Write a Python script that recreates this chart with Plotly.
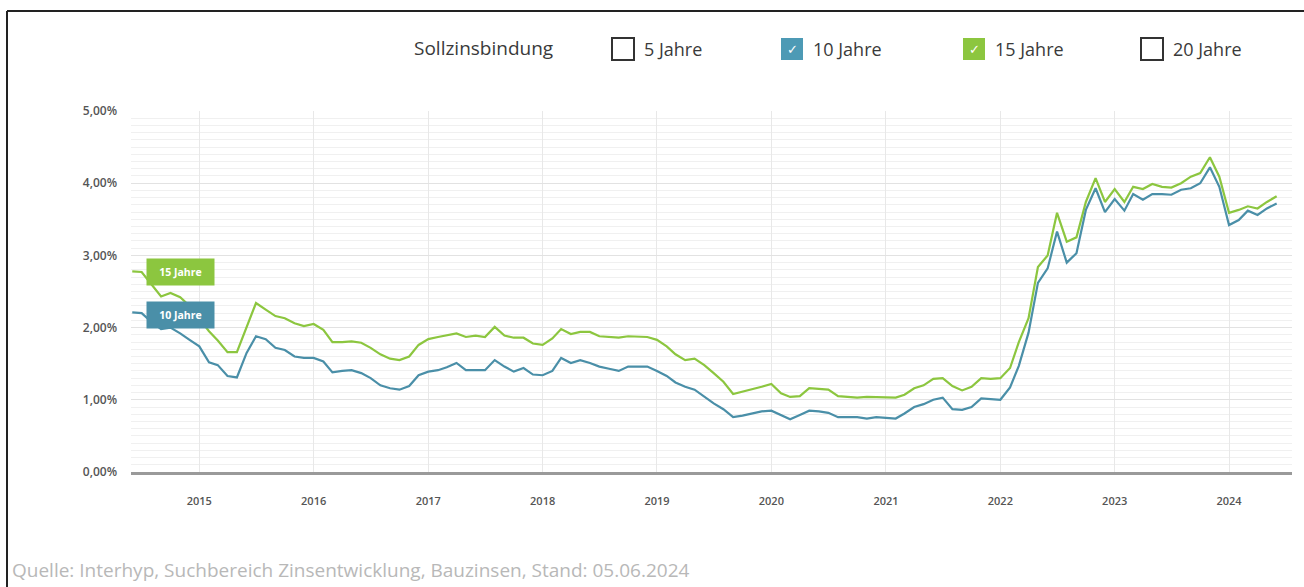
import pandas as pd
import plotly.graph_objects as go

# ---- data (monthly, Jun 2014 .. Jun 2024) ----
start_month = "2014-06-01"
n_months = 121

rate_15y = [
    2.78, 2.77, 2.60, 2.43, 2.48, 2.42, 2.30,
    2.12, 1.95, 1.82, 1.66, 1.66, 2.02, 2.34, 2.25, 2.16, 2.13, 2.06, 2.02,
    2.05, 1.97, 1.80, 1.80, 1.81, 1.79, 1.72, 1.63, 1.57, 1.55, 1.60, 1.76,
    1.84, 1.87, 1.89, 1.92, 1.87, 1.89, 1.87, 2.01, 1.89, 1.86, 1.86, 1.78,
    1.76, 1.85, 1.98, 1.91, 1.94, 1.94, 1.88, 1.87, 1.86, 1.88, 1.88, 1.87,
    1.83, 1.74, 1.63, 1.55, 1.57, 1.48, 1.37, 1.25, 1.08, 1.11, 1.14, 1.18,
    1.22, 1.09, 1.04, 1.05, 1.16, 1.15, 1.14, 1.05, 1.04, 1.03, 1.04, 1.04,
    1.04, 1.03, 1.07, 1.16, 1.20, 1.29, 1.30, 1.19, 1.13, 1.18, 1.30, 1.29,
    1.30, 1.44, 1.80, 2.13, 2.84, 3.00, 3.59, 3.19, 3.25, 3.74, 4.07, 3.74,
    3.92, 3.74, 3.95, 3.92, 3.99, 3.95, 3.94, 4.00, 4.09, 4.14, 4.36, 4.09,
    3.59, 3.63, 3.68, 3.65, 3.74, 3.82,
]
rate_10y = [
    2.21, 2.20, 2.08, 1.98, 2.00, 1.92, 1.83,
    1.74, 1.52, 1.48, 1.33, 1.31, 1.65, 1.88, 1.84, 1.72, 1.69, 1.60, 1.58,
    1.58, 1.53, 1.38, 1.40, 1.41, 1.37, 1.30, 1.20, 1.16, 1.14, 1.19, 1.34,
    1.39, 1.41, 1.45, 1.51, 1.41, 1.41, 1.41, 1.55, 1.46, 1.39, 1.44, 1.35,
    1.34, 1.40, 1.58, 1.51, 1.55, 1.51, 1.46, 1.43, 1.40, 1.46, 1.46, 1.46,
    1.40, 1.33, 1.24, 1.18, 1.14, 1.04, 0.95, 0.87, 0.76, 0.78, 0.81, 0.84,
    0.85, 0.79, 0.73, 0.79, 0.85, 0.84, 0.82, 0.76, 0.76, 0.76, 0.74, 0.76,
    0.75, 0.74, 0.81, 0.90, 0.94, 1.00, 1.03, 0.87, 0.86, 0.90, 1.02, 1.01,
    1.00, 1.17, 1.47, 1.93, 2.62, 2.82, 3.33, 2.90, 3.03, 3.63, 3.93, 3.60,
    3.78, 3.62, 3.85, 3.77, 3.85, 3.85, 3.84, 3.91, 3.93, 4.00, 4.22, 3.95,
    3.42, 3.49, 3.62, 3.56, 3.65, 3.72,
]
legend_items = ["5 Jahre", "10 Jahre", "15 Jahre", "20 Jahre"]
legend_checked = [False, True, True, False]
legend_title = "Sollzinsbindung"
source_text = "Quelle: Interhyp, Suchbereich Zinsentwicklung, Bauzinsen, Stand: 05.06.2024"

dates = pd.date_range(start_month, periods=n_months, freq="MS")

GREEN = "#8cc63f"
BLUE = "#4a8fa8"
BOX_BLUE = "#4d9ab5"

W, H = 1304, 587
L, R, T, B = 131, 12, 111, 115
PW, PH = W - L - R, H - T - B


def fx(px):
    return (px - L) / PW


def fy(py):
    return (H - B - py) / PH


fig = go.Figure()
fig.add_trace(go.Scatter(x=dates, y=rate_15y, mode="lines", name="15 Jahre",
                         line=dict(color=GREEN, width=2.2)))
fig.add_trace(go.Scatter(x=dates, y=rate_10y, mode="lines", name="10 Jahre",
                         line=dict(color=BLUE, width=2.2)))

shapes = []
annotations = []

# frame
shapes.append(dict(type="line", xref="paper", yref="paper", x0=fx(7), x1=fx(1304),
                   y0=fy(11), y1=fy(11), line=dict(color="#222", width=2)))
shapes.append(dict(type="line", xref="paper", yref="paper", x0=fx(7), x1=fx(7),
                   y0=fy(11), y1=fy(590), line=dict(color="#222", width=2)))

# custom legend
annotations.append(dict(xref="paper", yref="paper", x=fx(412), y=fy(48), xanchor="left",
                        yanchor="middle", text=legend_title, showarrow=False,
                        font=dict(family="Open Sans", size=19, weight=500, color="#3a3a3a")))
box_x = [612, 781, 963, 1141]
for bx, label, checked in zip(box_x, legend_items, legend_checked):
    if checked:
        fill = BOX_BLUE if label == "10 Jahre" else GREEN
        shapes.append(dict(type="rect", xref="paper", yref="paper", x0=fx(bx), x1=fx(bx + 22),
                           y0=fy(38), y1=fy(60), fillcolor=fill, line=dict(width=0)))
        annotations.append(dict(xref="paper", yref="paper", x=fx(bx + 11), y=fy(49),
                                text="✓", showarrow=False, xanchor="center", yanchor="middle",
                                font=dict(family="DejaVu Sans", size=13, color="white")))
    else:
        shapes.append(dict(type="rect", xref="paper", yref="paper", x0=fx(bx), x1=fx(bx + 22),
                           y0=fy(38), y1=fy(60), fillcolor="white",
                           line=dict(color="#333", width=2)))
    annotations.append(dict(xref="paper", yref="paper", x=fx(bx + 30), y=fy(49), xanchor="left",
                            yanchor="middle", text=label, showarrow=False,
                            font=dict(family="Open Sans", size=18, weight=500, color="#3a3a3a")))

# series labels
for label, color, cy in [("15 Jahre", GREEN, 272), ("10 Jahre", BLUE, 315)]:
    annotations.append(dict(xref="paper", yref="paper", x=fx(180.5), y=fy(cy),
                            xanchor="center", yanchor="middle", text="<b>%s</b>" % label,
                            showarrow=False, bgcolor=color, borderpad=4, width=59, height=18,
                            font=dict(family="Open Sans", size=10.5, color="white")))

# source
annotations.append(dict(xref="paper", yref="paper", x=fx(10), y=fy(570), xanchor="left",
                        yanchor="middle", text=source_text, showarrow=False,
                        font=dict(family="Open Sans", size=19, color="#b8b8b8")))

fig.update_layout(
    width=W, height=H,
    margin=dict(l=L, r=R, t=T, b=B),
    paper_bgcolor="white", plot_bgcolor="white",
    showlegend=False,
    separators=",.",
    shapes=shapes, annotations=annotations,
    font=dict(family="Open Sans"),
    xaxis=dict(range=["2014-05-28", "2024-07-20"], dtick="M12", tick0="2015-01-01",
               tickformat="%Y", showgrid=True, gridcolor="#e8e8e8", gridwidth=1,
               showline=True, linecolor="#9a9a9a", linewidth=2.5, ticks="",
               ticklabelstandoff=17,
               tickfont=dict(family="Open Sans", size=11, weight=600, color="#555")),
    yaxis=dict(range=[0, 5], dtick=1, tickformat=".2f", ticksuffix="%",
               showgrid=True, gridcolor="#e2e2e2", zeroline=False, ticks="",
               ticklabelstandoff=13,
               tickfont=dict(family="Open Sans", size=12, weight=600, color="#555"),
               minor=dict(dtick=0.1, showgrid=True, gridcolor="#f0f0f0", gridwidth=1)),
)

fig.write_html("out.html", config={"displayModeBar": False},
               post_script="document.body.style.margin='0';")
